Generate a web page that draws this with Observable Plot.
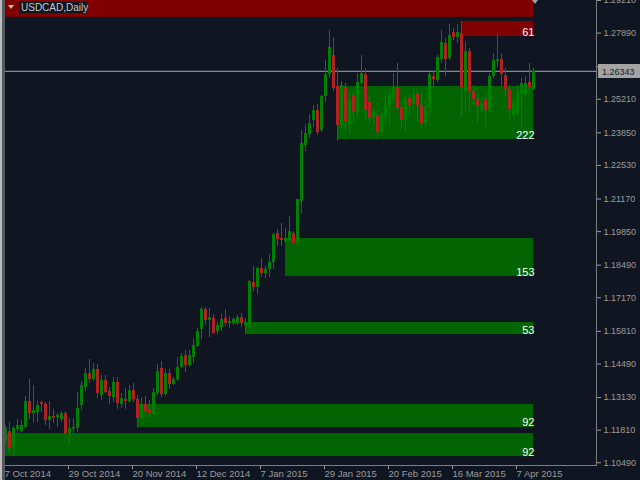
<!DOCTYPE html>
<html>
<head>
<meta charset="utf-8">
<script src="https://cdn.jsdelivr.net/npm/d3@7"></script>
<script src="https://cdn.jsdelivr.net/npm/@observablehq/plot@0.6"></script>
<style>
html, body { margin: 0; padding: 0; background: #101621; }
#chart { width: 640px; height: 480px; overflow: hidden; }
</style>
</head>
<body>
<div id="chart"></div>
<script>
// ---------- DATA ----------
const symbolTitle = "USDCAD,Daily";
const xTickIndex = [0, 16, 32, 48, 64, 80, 96, 112, 128];
const xTickLabels = ["7 Oct 2014", "29 Oct 2014", "20 Nov 2014", "12 Dec 2014", "7 Jan 2015",
  "29 Jan 2015", "20 Feb 2015", "16 Mar 2015", "7 Apr 2015"];
const yTickValues = [1.29210, 1.27890, 1.26530, 1.25210, 1.23850, 1.22530, 1.21170, 1.19850,
  1.18490, 1.17170, 1.15810, 1.14490, 1.13130, 1.11810, 1.10490];
const currentPrice = 1.26343;

const opens = [1.1139,1.1175,1.1111,1.1184,1.1175,1.1192,1.1297,1.1248,1.1252,1.1293,
1.1285,1.1220,1.1236,1.1232,1.1224,1.1248,1.1167,1.1184,1.1188,1.1281,
1.1354,1.1410,1.1386,1.1427,1.1321,1.1382,1.1337,1.1313,1.1374,1.1285,
1.1305,1.1297,1.1341,1.1305,1.1232,1.1285,1.1265,1.1248,1.1329,1.1431,
1.1325,1.1410,1.1366,1.1386,1.1435,1.1483,1.1443,1.1475,1.1520,1.1589,
1.1670,1.1625,1.1633,1.1580,1.1597,1.1633,1.1613,1.1613,1.1613,1.1637,
1.1605,1.1601,1.1779,1.1759,1.1836,1.1815,1.1832,1.1860,1.1977,1.1957,
1.1945,1.1949,1.1977,1.1937,1.2107,1.2334,1.2378,1.2435,1.2475,1.2394,
1.2532,1.2621,1.2698,1.2573,1.2415,1.2569,1.2415,1.2536,1.2467,1.2585,
1.2621,1.2508,1.2443,1.2455,1.2386,1.2447,1.2496,1.2524,1.2569,1.2488,
1.2435,1.2524,1.2500,1.2540,1.2496,1.2423,1.2484,1.2613,1.2597,1.2682,
1.2747,1.2686,1.2791,1.2771,1.2787,1.2552,1.2714,1.2552,1.2520,1.2475,
1.2520,1.2475,1.2613,1.2674,1.2682,1.2617,1.2561,1.2455,1.2463,1.2540,
1.2540,1.2589,1.2561];

const highs = [1.1200,1.1212,1.1196,1.1224,1.1220,1.1317,1.1386,1.1362,1.1297,1.1297,
1.1293,1.1297,1.1265,1.1248,1.1256,1.1256,1.1228,1.1228,1.1333,1.1378,
1.1431,1.1467,1.1451,1.1447,1.1402,1.1402,1.1354,1.1394,1.1394,1.1329,
1.1350,1.1362,1.1370,1.1321,1.1313,1.1317,1.1301,1.1350,1.1447,1.1459,
1.1427,1.1427,1.1394,1.1475,1.1491,1.1503,1.1503,1.1552,1.1593,1.1678,
1.1678,1.1674,1.1649,1.1617,1.1649,1.1670,1.1641,1.1637,1.1645,1.1653,
1.1633,1.1787,1.1844,1.1840,1.1876,1.1844,1.1892,1.1977,1.1994,1.2018,
1.1998,1.2046,1.1985,1.2115,1.2394,1.2419,1.2459,1.2496,1.2500,1.2536,
1.2678,1.2799,1.2771,1.2646,1.2593,1.2585,1.2548,1.2548,1.2625,1.2698,
1.2646,1.2536,1.2488,1.2480,1.2467,1.2556,1.2565,1.2625,1.2666,1.2508,
1.2536,1.2536,1.2565,1.2548,1.2544,1.2524,1.2629,1.2637,1.2698,1.2799,
1.2767,1.2824,1.2808,1.2824,1.2836,1.2751,1.2727,1.2577,1.2544,1.2528,
1.2528,1.2625,1.2706,1.2783,1.2706,1.2646,1.2577,1.2528,1.2577,1.2605,
1.2613,1.2666,1.2646];

const lows = [1.1119,1.1090,1.1078,1.1167,1.1171,1.1188,1.1224,1.1208,1.1212,1.1252,
1.1200,1.1184,1.1208,1.1192,1.1212,1.1163,1.1123,1.1163,1.1171,1.1260,
1.1337,1.1370,1.1378,1.1309,1.1301,1.1329,1.1285,1.1293,1.1265,1.1269,
1.1265,1.1289,1.1293,1.1188,1.1220,1.1232,1.1232,1.1240,1.1321,1.1313,
1.1317,1.1346,1.1362,1.1378,1.1431,1.1414,1.1435,1.1451,1.1516,1.1548,
1.1605,1.1556,1.1568,1.1568,1.1580,1.1601,1.1593,1.1605,1.1605,1.1597,
1.1568,1.1597,1.1742,1.1730,1.1799,1.1795,1.1799,1.1832,1.1925,1.1925,
1.1937,1.1945,1.1933,1.1929,1.2058,1.2309,1.2362,1.2407,1.2374,1.2386,
1.2508,1.2605,1.2552,1.2350,1.2394,1.2394,1.2374,1.2427,1.2447,1.2577,
1.2435,1.2423,1.2415,1.2362,1.2374,1.2423,1.2423,1.2504,1.2475,1.2403,
1.2386,1.2447,1.2475,1.2431,1.2403,1.2407,1.2447,1.2569,1.2589,1.2666,
1.2613,1.2678,1.2759,1.2747,1.2447,1.2475,1.2467,1.2492,1.2423,1.2463,
1.2407,1.2463,1.2605,1.2650,1.2573,1.2528,1.2439,1.2443,1.2455,1.2403,
1.2532,1.2548,1.2557];

const closes = [1.1188,1.1107,1.1188,1.1200,1.1200,1.1297,1.1248,1.1260,1.1281,1.1285,
1.1220,1.1236,1.1228,1.1240,1.1248,1.1167,1.1188,1.1192,1.1269,1.1362,
1.1410,1.1386,1.1427,1.1329,1.1382,1.1333,1.1317,1.1374,1.1289,1.1309,
1.1297,1.1341,1.1305,1.1228,1.1285,1.1256,1.1248,1.1333,1.1418,1.1325,
1.1410,1.1366,1.1386,1.1435,1.1479,1.1443,1.1483,1.1524,1.1580,1.1670,
1.1625,1.1637,1.1572,1.1605,1.1629,1.1613,1.1621,1.1629,1.1637,1.1613,
1.1617,1.1783,1.1759,1.1836,1.1815,1.1832,1.1860,1.1973,1.1953,1.1949,
1.1957,1.1985,1.1937,1.2115,1.2342,1.2382,1.2423,1.2475,1.2386,1.2532,
1.2621,1.2731,1.2565,1.2415,1.2577,1.2431,1.2516,1.2467,1.2589,1.2625,
1.2475,1.2443,1.2467,1.2386,1.2455,1.2496,1.2536,1.2569,1.2484,1.2435,
1.2516,1.2496,1.2536,1.2496,1.2423,1.2488,1.2621,1.2601,1.2690,1.2751,
1.2682,1.2779,1.2771,1.2791,1.2569,1.2714,1.2552,1.2520,1.2492,1.2504,
1.2475,1.2613,1.2678,1.2682,1.2621,1.2561,1.2480,1.2508,1.2544,1.2585,
1.2585,1.2569,1.26343];

const zoneKind  = ["supply", "supply", "demand", "demand", "demand", "demand", "demand"];
const zoneStart = [0, 114, 83, 70, 60, 33, 0];
const zoneLow   = [1.2853, 1.2775, 1.2358, 1.1803, 1.1568, 1.1192, 1.1074];
const zoneHigh  = [1.2935, 1.2836, 1.2573, 1.1957, 1.1617, 1.1285, 1.1167];
const zoneLabel = ["", "61", "222", "153", "53", "92", "92"];

// ---------- BUILD ----------
const BG = "#101621", BULL = "#008000", BEAR = "#b22222", DEMAND = "#006400", SUPPLY = "#800000";
const AXIS = "#7d7d7d", TEXT = "#9b9b9b";
const FONT = "'Liberation Sans', Arial, sans-serif";

const bars = closes.map((c, i) => ({i, open: opens[i], high: highs[i], low: lows[i], close: c}));
const bullBars = bars.filter(d => d.close >= d.open);
const bearBars = bars.filter(d => d.close < d.open);
const lastIndex = closes.length - 1;
const zones = zoneStart.map((s, k) => ({start: s, end: lastIndex, low: zoneLow[k], high: zoneHigh[k],
  label: zoneLabel[k], kind: zoneKind[k]}));

const decoration = (index, scales, values, dims) => {
  const g = d3.create("svg:g").attr("text-anchor", "start");
  // window border on the left
  g.append("rect").attr("x", 0).attr("y", 0).attr("width", 2).attr("height", dims.height).attr("fill", "#bdbdbd");
  g.append("rect").attr("x", 2).attr("y", 0).attr("width", dims.marginLeft - 2).attr("height", dims.height).attr("fill", "#555a60");
  // title with drop-down triangle
  const tx = dims.marginLeft;
  g.append("path").attr("d", `M${tx + 3},5 L${tx + 9},5 L${tx + 6},9 Z`).attr("fill", "#c0c0c0");
  g.append("rect").attr("x", tx + 14).attr("y", 2).attr("width", 68).attr("height", 11).attr("fill", BG);
  g.append("text").attr("x", tx + 16).attr("y", 11).attr("fill", "#c8c8c8").attr("text-anchor", "start")
    .attr("font-size", 10).attr("font-family", FONT).text(symbolTitle);
  // chart shift marker
  const sx = scales.x(lastIndex) + 2;
  g.append("path").attr("d", `M${sx - 3},0 L${sx + 3},0 L${sx},4 Z`).attr("fill", "#a0a0a0");
  // current price box on the right axis
  const py = Math.round(scales.y(currentPrice));
  const bx = dims.width - dims.marginRight + 2;
  g.append("rect").attr("x", bx).attr("y", py - 7).attr("width", dims.marginRight).attr("height", 14).attr("fill", "#a3a3a3");
  g.append("text").attr("x", bx + 4).attr("y", py + 3.5).attr("fill", "#1a1a1a").attr("text-anchor", "start")
    .attr("font-size", 9).attr("font-family", FONT).text(currentPrice.toFixed(5));
  return g.node();
};

const chart = Plot.plot({
  width: 640,
  height: 480,
  marginLeft: 5,
  marginRight: 44,
  marginTop: 0,
  marginBottom: 15,
  style: {background: BG, color: TEXT, fontFamily: FONT, fontSize: "9px"},
  x: {domain: [0, 147.75], axis: null},
  y: {domain: [1.103775, 1.2921], axis: null},
  marks: [
    Plot.rect(zones, {x1: "start", x2: "end", y1: "low", y2: "high",
      fill: d => d.kind === "supply" ? SUPPLY : DEMAND, clip: true}),
    Plot.ruleY([currentPrice], {stroke: "#a4a8ad"}),
    Plot.ruleX(bullBars, {x: "i", y1: "low", y2: "high", stroke: BULL}),
    Plot.ruleX(bearBars, {x: "i", y1: "low", y2: "high", stroke: BEAR}),
    Plot.ruleX(bullBars, {x: "i", y1: "open", y2: "close", stroke: BULL, strokeWidth: 3}),
    Plot.ruleX(bearBars, {x: "i", y1: "open", y2: "close", stroke: BEAR, strokeWidth: 3}),
    Plot.text(zones.filter(z => z.label), {x: "end", y: "low", text: "label", textAnchor: "end",
      lineAnchor: "bottom", dy: -1, dx: 1, fill: "white", fontSize: 11}),
    Plot.axisY(yTickValues, {anchor: "right", tickSize: 4, tickPadding: 3,
      tickFormat: d => d.toFixed(5), fontSize: 9}),
    Plot.axisX(xTickIndex, {anchor: "bottom", tickSize: 4, tickPadding: 1, textAnchor: "start", dx: -1,
      tickFormat: d => xTickLabels[xTickIndex.indexOf(d)], fontSize: 9.5}),
    Plot.frame({anchor: "right", stroke: AXIS}),
    Plot.frame({anchor: "bottom", stroke: AXIS}),
    decoration
  ]
});
document.getElementById("chart").appendChild(chart);
</script>
</body>
</html>
